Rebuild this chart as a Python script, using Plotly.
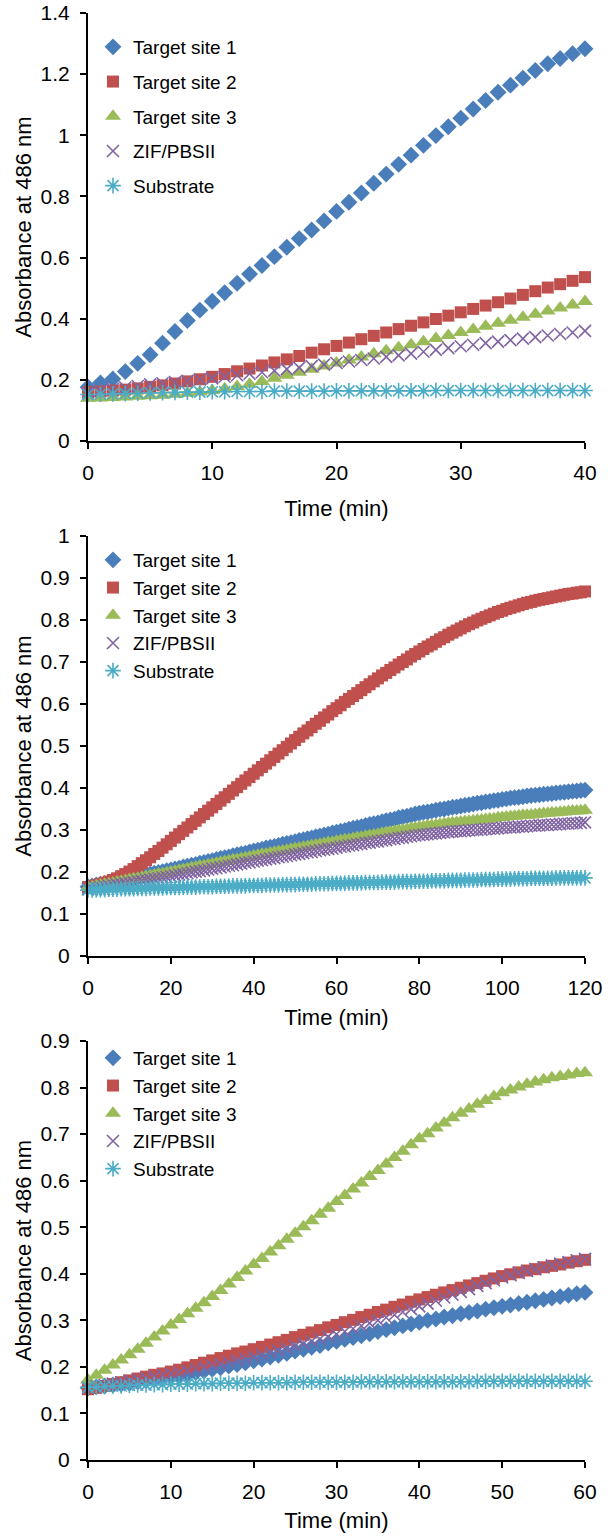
import plotly.graph_objects as go

# ---------------- data ----------------
SERIES_NAMES = ["Target site 1", "Target site 2", "Target site 3", "ZIF/PBSII", "Substrate"]

# Panel A: 0-40 min, every minute
time_a = list(range(0, 41))
a_site1 = [0.176, 0.190, 0.203, 0.227, 0.254, 0.282, 0.320, 0.358, 0.394, 0.428,
           0.457, 0.485, 0.516, 0.546, 0.574, 0.603, 0.634, 0.662, 0.690, 0.720,
           0.751, 0.781, 0.811, 0.843, 0.873, 0.905, 0.935, 0.967, 0.999, 1.028,
           1.056, 1.086, 1.114, 1.141, 1.164, 1.187, 1.212, 1.234, 1.251, 1.267, 1.283]
a_site2 = [0.160, 0.162, 0.165, 0.168, 0.172, 0.177, 0.182, 0.188, 0.195, 0.202,
           0.210, 0.219, 0.228, 0.237, 0.247, 0.257, 0.267, 0.278, 0.289, 0.300,
           0.311, 0.322, 0.333, 0.344, 0.355, 0.366, 0.377, 0.388, 0.399, 0.410,
           0.421, 0.432, 0.443, 0.454, 0.466, 0.478, 0.490, 0.502, 0.513, 0.524, 0.536]
a_site3 = [0.140, 0.141, 0.142, 0.144, 0.146, 0.148, 0.150, 0.153, 0.156, 0.160,
           0.165, 0.171, 0.178, 0.186, 0.195, 0.205, 0.215, 0.225, 0.235, 0.245,
           0.255, 0.265, 0.275, 0.285, 0.295, 0.305, 0.315, 0.325, 0.335, 0.345,
           0.355, 0.365, 0.375, 0.385, 0.395, 0.405, 0.415, 0.425, 0.435, 0.445, 0.456]
a_zif = [0.160, 0.165, 0.170, 0.175, 0.180, 0.185, 0.189, 0.193, 0.197, 0.201,
         0.205, 0.210, 0.215, 0.220, 0.225, 0.230, 0.235, 0.240, 0.245, 0.250,
         0.255, 0.260, 0.265, 0.270, 0.275, 0.280, 0.286, 0.292, 0.298, 0.304,
         0.310, 0.315, 0.320, 0.325, 0.330, 0.335, 0.340, 0.345, 0.350, 0.355, 0.360]
a_substrate = [0.152, 0.153, 0.154, 0.155, 0.156, 0.157, 0.158, 0.159, 0.160, 0.160,
               0.161, 0.161, 0.162, 0.162, 0.162, 0.163, 0.163, 0.163, 0.163, 0.163,
               0.164, 0.164, 0.164, 0.164, 0.164, 0.164, 0.164, 0.164, 0.165, 0.165,
               0.165, 0.165, 0.165, 0.165, 0.165, 0.165, 0.165, 0.165, 0.165, 0.165, 0.165]

# Panel B: 0-120 min, every minute
time_b = list(range(0, 121))
b_site1 = [0.165, 0.167, 0.169, 0.171, 0.173, 0.175, 0.177, 0.179, 0.181, 0.183,
           0.185, 0.187, 0.189, 0.191, 0.193, 0.195, 0.197, 0.199, 0.201, 0.203,
           0.205, 0.207, 0.209, 0.212, 0.214, 0.216, 0.218, 0.221, 0.223, 0.225,
           0.227, 0.230, 0.232, 0.234, 0.236, 0.239, 0.241, 0.243, 0.245, 0.248,
           0.250, 0.252, 0.254, 0.257, 0.259, 0.261, 0.263, 0.266, 0.268, 0.270,
           0.272, 0.275, 0.277, 0.279, 0.281, 0.284, 0.286, 0.288, 0.290, 0.293,
           0.295, 0.297, 0.299, 0.302, 0.304, 0.306, 0.308, 0.311, 0.313, 0.315,
           0.317, 0.320, 0.322, 0.324, 0.326, 0.329, 0.331, 0.333, 0.335, 0.338,
           0.340, 0.342, 0.343, 0.345, 0.347, 0.349, 0.350, 0.352, 0.354, 0.355,
           0.357, 0.359, 0.360, 0.362, 0.364, 0.365, 0.367, 0.368, 0.370, 0.371,
           0.373, 0.374, 0.376, 0.377, 0.378, 0.379, 0.381, 0.382, 0.383, 0.384,
           0.385, 0.386, 0.387, 0.388, 0.389, 0.390, 0.391, 0.392, 0.393, 0.394, 0.395]
b_site2 = [0.164, 0.166, 0.168, 0.171, 0.174, 0.177, 0.181, 0.185, 0.190, 0.195,
           0.201, 0.207, 0.214, 0.221, 0.228, 0.235, 0.243, 0.250, 0.258, 0.266,
           0.274, 0.282, 0.290, 0.298, 0.306, 0.314, 0.322, 0.330, 0.338, 0.346,
           0.354, 0.362, 0.370, 0.378, 0.386, 0.394, 0.402, 0.410, 0.418, 0.426,
           0.434, 0.442, 0.450, 0.458, 0.466, 0.474, 0.482, 0.490, 0.498, 0.506,
           0.514, 0.522, 0.530, 0.537, 0.545, 0.553, 0.560, 0.568, 0.575, 0.583,
           0.590, 0.597, 0.605, 0.612, 0.619, 0.626, 0.633, 0.640, 0.647, 0.654,
           0.661, 0.668, 0.674, 0.681, 0.687, 0.694, 0.700, 0.706, 0.713, 0.719,
           0.725, 0.731, 0.737, 0.742, 0.748, 0.754, 0.759, 0.765, 0.770, 0.775,
           0.780, 0.785, 0.790, 0.794, 0.799, 0.803, 0.807, 0.811, 0.815, 0.819,
           0.822, 0.826, 0.829, 0.832, 0.835, 0.838, 0.841, 0.843, 0.846, 0.848,
           0.850, 0.852, 0.854, 0.856, 0.858, 0.860, 0.862, 0.863, 0.865, 0.866, 0.868]
b_site3 = [0.163, 0.165, 0.167, 0.169, 0.171, 0.172, 0.174, 0.176, 0.178, 0.180,
           0.182, 0.184, 0.185, 0.187, 0.189, 0.191, 0.193, 0.195, 0.196, 0.198,
           0.200, 0.202, 0.204, 0.206, 0.208, 0.210, 0.212, 0.214, 0.215, 0.217,
           0.219, 0.221, 0.223, 0.225, 0.227, 0.229, 0.230, 0.232, 0.234, 0.236,
           0.238, 0.240, 0.242, 0.243, 0.245, 0.247, 0.249, 0.250, 0.252, 0.254,
           0.256, 0.257, 0.259, 0.261, 0.263, 0.264, 0.266, 0.268, 0.270, 0.271,
           0.273, 0.275, 0.277, 0.278, 0.280, 0.282, 0.283, 0.285, 0.287, 0.288,
           0.290, 0.292, 0.294, 0.295, 0.297, 0.299, 0.300, 0.302, 0.304, 0.305,
           0.307, 0.308, 0.310, 0.311, 0.312, 0.313, 0.315, 0.316, 0.317, 0.318,
           0.319, 0.320, 0.321, 0.322, 0.323, 0.324, 0.325, 0.326, 0.327, 0.329,
           0.330, 0.331, 0.332, 0.333, 0.334, 0.335, 0.335, 0.336, 0.337, 0.338,
           0.339, 0.340, 0.341, 0.341, 0.342, 0.343, 0.344, 0.345, 0.345, 0.346, 0.347]
b_zif = [0.160, 0.161, 0.163, 0.164, 0.166, 0.167, 0.169, 0.170, 0.172, 0.173,
         0.175, 0.176, 0.178, 0.179, 0.181, 0.182, 0.184, 0.185, 0.187, 0.188,
         0.190, 0.192, 0.194, 0.195, 0.197, 0.199, 0.201, 0.202, 0.204, 0.206,
         0.208, 0.209, 0.211, 0.213, 0.215, 0.216, 0.218, 0.220, 0.222, 0.223,
         0.225, 0.227, 0.228, 0.230, 0.232, 0.233, 0.235, 0.237, 0.238, 0.240,
         0.242, 0.243, 0.245, 0.247, 0.248, 0.250, 0.252, 0.253, 0.255, 0.256,
         0.258, 0.260, 0.261, 0.263, 0.264, 0.266, 0.267, 0.269, 0.270, 0.272,
         0.273, 0.275, 0.276, 0.278, 0.279, 0.281, 0.282, 0.284, 0.285, 0.287,
         0.288, 0.289, 0.290, 0.291, 0.292, 0.293, 0.294, 0.295, 0.296, 0.297,
         0.297, 0.298, 0.299, 0.300, 0.300, 0.301, 0.302, 0.303, 0.303, 0.304,
         0.305, 0.306, 0.306, 0.307, 0.308, 0.308, 0.309, 0.310, 0.310, 0.311,
         0.312, 0.312, 0.313, 0.313, 0.314, 0.315, 0.315, 0.316, 0.316, 0.317, 0.318]
b_substrate = [0.157, 0.157, 0.158, 0.158, 0.158, 0.159, 0.159, 0.159, 0.160, 0.160,
               0.160, 0.160, 0.161, 0.161, 0.161, 0.162, 0.162, 0.162, 0.162, 0.163,
               0.163, 0.163, 0.163, 0.164, 0.164, 0.164, 0.164, 0.165, 0.165, 0.165,
               0.165, 0.166, 0.166, 0.166, 0.166, 0.167, 0.167, 0.167, 0.167, 0.168,
               0.168, 0.168, 0.168, 0.169, 0.169, 0.169, 0.169, 0.170, 0.170, 0.170,
               0.170, 0.171, 0.171, 0.171, 0.171, 0.172, 0.172, 0.172, 0.172, 0.173,
               0.173, 0.173, 0.173, 0.174, 0.174, 0.174, 0.174, 0.175, 0.175, 0.175,
               0.175, 0.176, 0.176, 0.176, 0.176, 0.177, 0.177, 0.177, 0.177, 0.178,
               0.178, 0.178, 0.178, 0.179, 0.179, 0.179, 0.179, 0.180, 0.180, 0.180,
               0.180, 0.181, 0.181, 0.181, 0.181, 0.182, 0.182, 0.182, 0.182, 0.183,
               0.183, 0.183, 0.183, 0.184, 0.184, 0.184, 0.184, 0.185, 0.185, 0.185,
               0.185, 0.185, 0.185, 0.186, 0.186, 0.186, 0.186, 0.186, 0.186, 0.186, 0.186]

# Panel C: 0-60 min, every minute
time_c = list(range(0, 61))
c_site1 = [0.155, 0.157, 0.159, 0.161, 0.163, 0.165, 0.168, 0.170, 0.173, 0.175,
           0.178, 0.181, 0.184, 0.188, 0.191, 0.195, 0.198, 0.202, 0.205, 0.209,
           0.213, 0.217, 0.221, 0.225, 0.229, 0.234, 0.238, 0.242, 0.246, 0.251,
           0.255, 0.259, 0.263, 0.267, 0.271, 0.276, 0.280, 0.284, 0.288, 0.292,
           0.296, 0.300, 0.303, 0.307, 0.310, 0.314, 0.317, 0.320, 0.324, 0.327,
           0.330, 0.333, 0.336, 0.339, 0.342, 0.345, 0.348, 0.351, 0.354, 0.357, 0.360]
c_site2 = [0.152, 0.155, 0.159, 0.163, 0.167, 0.171, 0.175, 0.179, 0.183, 0.186,
           0.190, 0.194, 0.199, 0.204, 0.209, 0.214, 0.219, 0.224, 0.229, 0.233,
           0.238, 0.243, 0.248, 0.253, 0.258, 0.264, 0.269, 0.274, 0.279, 0.285,
           0.290, 0.296, 0.301, 0.307, 0.312, 0.318, 0.323, 0.329, 0.334, 0.340,
           0.345, 0.350, 0.355, 0.360, 0.365, 0.370, 0.375, 0.380, 0.385, 0.390,
           0.395, 0.399, 0.403, 0.407, 0.410, 0.414, 0.417, 0.420, 0.424, 0.427, 0.430]
c_site3 = [0.172, 0.182, 0.193, 0.204, 0.215, 0.226, 0.238, 0.251, 0.264, 0.277,
           0.290, 0.302, 0.314, 0.326, 0.338, 0.351, 0.364, 0.378, 0.392, 0.406,
           0.420, 0.433, 0.447, 0.460, 0.474, 0.487, 0.501, 0.514, 0.528, 0.541,
           0.555, 0.568, 0.582, 0.595, 0.609, 0.622, 0.636, 0.650, 0.663, 0.677,
           0.690, 0.701, 0.713, 0.724, 0.735, 0.745, 0.754, 0.764, 0.772, 0.781,
           0.789, 0.795, 0.801, 0.807, 0.812, 0.817, 0.821, 0.824, 0.827, 0.830, 0.832]
c_zif = [0.155, 0.158, 0.161, 0.164, 0.167, 0.170, 0.173, 0.176, 0.179, 0.182,
         0.185, 0.188, 0.192, 0.195, 0.199, 0.203, 0.206, 0.210, 0.214, 0.218,
         0.222, 0.226, 0.231, 0.235, 0.240, 0.245, 0.250, 0.255, 0.260, 0.265,
         0.270, 0.276, 0.282, 0.288, 0.294, 0.300, 0.306, 0.312, 0.318, 0.324,
         0.330, 0.336, 0.342, 0.349, 0.355, 0.361, 0.367, 0.374, 0.380, 0.386,
         0.392, 0.397, 0.402, 0.406, 0.410, 0.414, 0.418, 0.422, 0.425, 0.429, 0.432]
c_substrate = [0.156, 0.157, 0.158, 0.159, 0.159, 0.160, 0.161, 0.161, 0.162, 0.162,
               0.163, 0.163, 0.163, 0.164, 0.164, 0.164, 0.165, 0.165, 0.165, 0.165,
               0.166, 0.166, 0.166, 0.166, 0.166, 0.167, 0.167, 0.167, 0.167, 0.167,
               0.167, 0.167, 0.167, 0.168, 0.168, 0.168, 0.168, 0.168, 0.168, 0.168,
               0.168, 0.168, 0.168, 0.168, 0.168, 0.168, 0.168, 0.169, 0.169, 0.169,
               0.169, 0.169, 0.169, 0.169, 0.169, 0.169, 0.169, 0.169, 0.169, 0.169, 0.169]

# ---------------- styling ----------------
W, H = 608, 1538
FONT = "Liberation Sans, Arial, sans-serif"
COLORS = ["#4A7EBB", "#C0504D", "#9BBB59", "#8064A2", "#4BACC6"]
SYMBOLS = ["diamond", "square", "triangle-up", "x-thin-open", "asterisk-open"]
SIZES = [13, 12, 14, 12, 13]

panels = [
    dict(t=time_a, ys=[a_site1, a_site2, a_site3, a_zif, a_substrate],
         xr=[0, 40], xd=10, yr=[0, 1.4], yd=0.2, top=13, bottom=441,
         legend_top=28, gap=7, title_std=17),
    dict(t=time_b, ys=[b_site1, b_site2, b_site3, b_zif, b_substrate],
         xr=[0, 120], xd=20, yr=[0, 1.0], yd=0.1, top=536, bottom=956,
         legend_top=541, gap=0, title_std=11),
    dict(t=time_c, ys=[c_site1, c_site2, c_site3, c_zif, c_substrate],
         xr=[0, 60], xd=10, yr=[0, 0.9], yd=0.1, top=1041, bottom=1460,
         legend_top=1039, gap=0, title_std=10),
]
X0, X1 = 88, 585
LEG_X = 93


def px_x(v):
    return v / W


def px_y(v):
    return 1 - v / H


fig = go.Figure()
layout = dict(width=W, height=H, margin=dict(l=0, r=0, t=0, b=0, autoexpand=False),
              paper_bgcolor="white", plot_bgcolor="white",
              font=dict(family=FONT, color="black", size=18), showlegend=True)

for i, p in enumerate(panels):
    sfx = "" if i == 0 else str(i + 1)
    xa, ya = "x" + sfx, "y" + sfx
    lg = "legend" + sfx
    for k in range(5):
        sym = SYMBOLS[k]
        is_open = sym.endswith("open")
        fig.add_trace(go.Scatter(
            x=p["t"], y=p["ys"][k], mode="markers", name=SERIES_NAMES[k],
            xaxis=xa, yaxis=ya, legend=lg, legendgroup=f"p{i}_{k}",
            cliponaxis=False,
            marker=dict(symbol=sym, size=SIZES[k], color=COLORS[k],
                        line=dict(width=1.6 if is_open else 0, color=COLORS[k]))))
    layout["xaxis" + sfx] = dict(
        domain=[px_x(X0), px_x(X1)], anchor=ya, range=p["xr"], dtick=p["xd"], tick0=0,
        automargin=False,
        showgrid=False, zeroline=False, showline=True, linecolor="black", linewidth=2,
        ticks="outside", ticklen=6, tickwidth=2, tickcolor="black",
        ticklabelstandoff=6, tickfont=dict(size=21, family=FONT),
        title=dict(text="Time (min)", font=dict(size=22, family=FONT), standoff=p["title_std"]))
    layout["yaxis" + sfx] = dict(
        domain=[px_y(p["bottom"]), px_y(p["top"])], anchor=xa, range=p["yr"],
        dtick=p["yd"], tick0=0, automargin=False,
        showgrid=False, zeroline=False, showline=True, linecolor="black", linewidth=2,
        ticks="outside", ticklen=6, tickwidth=2, tickcolor="black",
        ticklabelstandoff=6, tickfont=dict(size=21, family=FONT),
        title=dict(text="Absorbance at 486 nm", font=dict(size=22, family=FONT), standoff=3))
    layout[lg] = dict(x=px_x(LEG_X), xanchor="left", y=px_y(p["legend_top"]), yanchor="top",
                      bgcolor="rgba(0,0,0,0)", font=dict(size=19, family=FONT),
                      traceorder="grouped", tracegroupgap=p["gap"], itemsizing="trace")

fig.update_layout(**layout)
# remove the browser's default 8px body margin so the figure fills the window exactly
fig.write_html("out.html", config={"displayModeBar": False},
               post_script="document.body.style.margin='0px';document.body.style.overflow='hidden';")
